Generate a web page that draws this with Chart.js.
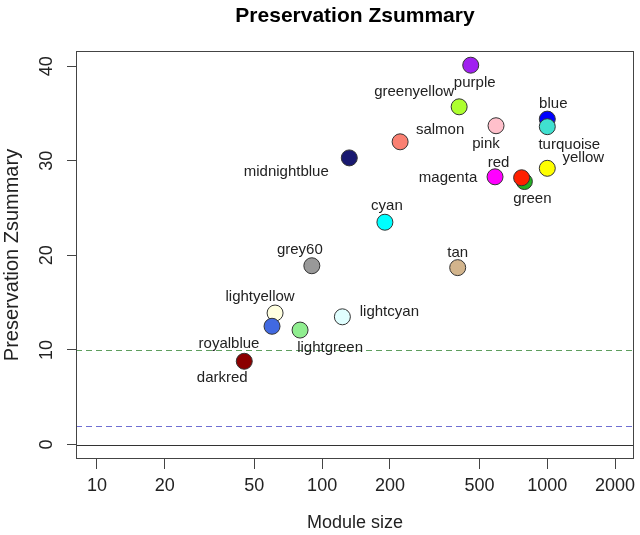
<!DOCTYPE html>
<html>
<head>
<meta charset="utf-8">
<script src="https://cdn.jsdelivr.net/npm/chart.js@4.4.0/dist/chart.umd.min.js"></script>
<style>
  html, body { margin: 0; padding: 0; background: #fff; }
  canvas { display: block; }
</style>
</head>
<body>
<canvas id="zChart" width="640" height="535"></canvas>
<script>
// module data (draw order matters where points overlap)
const modules = ['purple', 'greenyellow', 'blue', 'turquoise', 'pink', 'salmon', 'midnightblue',
  'yellow', 'magenta', 'green', 'red', 'cyan', 'grey60', 'tan', 'lightyellow', 'royalblue',
  'lightgreen', 'lightcyan', 'darkred'];
const moduleSize = [457, 406, 1000, 1000, 592, 222, 132, 1000, 586, 791, 769, 190, 90, 400, 61.8, 59.9, 79.8, 123, 45.1];
const zSummary = [40.1, 35.7, 34.4, 33.6, 33.7, 32.0, 30.3, 29.2, 28.3, 27.8, 28.2, 23.5, 18.9, 18.7, 13.9, 12.5, 12.1, 13.5, 8.8];
const moduleColors = ['#a020f0', '#adff2f', '#0000ff', '#40e0d0', '#ffc0cb', '#fa8072', '#191970',
  '#ffff00', '#ff00ff', '#22b022', '#ff2000', '#00ffff', '#999999', '#d2b48c', '#ffffe0', '#4169e1',
  '#90ee90', '#e0ffff', '#8b0000'];
const xTicks = [10, 20, 50, 100, 200, 500, 1000, 2000];
const yTicks = [0, 10, 20, 30, 40];
const thresholds = [10, 2, 0];

// styling only: where each label sits relative to its point, and the threshold line looks
const labelOffsets = [[4, 18], [-45, -15], [6, -15], [22, 18], [-10, 18], [40, -12], [-63, 14],
  [36, -10], [-47, 1], [8, 17], [-23, -15], [2, -16], [-12, -16], [0, -15], [-15, -16], [-43, 18],
  [30, 18], [47, -5], [-22, 17]];
const lineStyles = [
  { color: '#5f9f5f', dash: [6, 4] },
  { color: '#6f6fd2', dash: [6, 4] },
  { color: '#333333', dash: [] }
];

const FONT = "'Liberation Sans', Arial, Helvetica, sans-serif";
Chart.defaults.font.family = FONT;
Chart.defaults.color = '#222';

const annotate = {
  id: 'annotate',
  beforeDatasetsDraw(chart) {
    const { ctx, chartArea: a, scales: { y } } = chart;
    ctx.save();
    ctx.beginPath();
    ctx.rect(a.left, a.top, a.right - a.left, a.bottom - a.top);
    ctx.clip();
    thresholds.forEach((t, i) => {
      const py = Math.round(y.getPixelForValue(t)) + 0.5;
      ctx.strokeStyle = lineStyles[i].color;
      ctx.setLineDash(lineStyles[i].dash);
      ctx.lineWidth = 1;
      ctx.beginPath();
      ctx.moveTo(a.left, py);
      ctx.lineTo(a.right, py);
      ctx.stroke();
    });
    ctx.restore();
  },
  afterDatasetsDraw(chart) {
    const { ctx } = chart;
    const pts = chart.getDatasetMeta(0).data;
    ctx.save();
    ctx.font = '15px ' + FONT;
    ctx.fillStyle = '#222';
    ctx.textAlign = 'center';
    ctx.textBaseline = 'middle';
    pts.forEach((p, i) => {
      ctx.fillText(modules[i], p.x + labelOffsets[i][0], p.y + labelOffsets[i][1]);
    });
    ctx.restore();
  },
  afterDraw(chart) {
    const { ctx, chartArea: a, scales: { y } } = chart;
    ctx.save();
    ctx.strokeStyle = '#444';
    ctx.lineWidth = 1;
    ctx.strokeRect(a.left + 0.5, a.top + 0.5, a.right - a.left - 1, a.bottom - a.top - 1);

    ctx.fillStyle = '#222';
    ctx.font = '18px ' + FONT;
    ctx.textAlign = 'center';
    ctx.textBaseline = 'middle';
    yTicks.forEach(v => {
      ctx.save();
      ctx.translate(47, y.getPixelForValue(v));
      ctx.rotate(-Math.PI / 2);
      ctx.fillText(String(v), 0, 0);
      ctx.restore();
    });

    ctx.fillStyle = '#000';
    ctx.font = 'bold 21px ' + FONT;
    ctx.fillText('Preservation Zsummary', (a.left + a.right) / 2, 16);
    ctx.restore();
  }
};

new Chart(document.getElementById('zChart'), {
  type: 'scatter',
  data: {
    datasets: [{
      data: moduleSize.map((s, i) => ({ x: s, y: zSummary[i] })),
      pointRadius: 8,
      pointHoverRadius: 8,
      pointBackgroundColor: moduleColors,
      pointBorderColor: '#333',
      pointBorderWidth: 1
    }]
  },
  options: {
    responsive: false,
    animation: false,
    layout: { autoPadding: false, padding: { top: 51, right: 6, left: 0, bottom: 0 } },
    plugins: { legend: { display: false }, tooltip: { enabled: false } },
    scales: {
      x: {
        type: 'logarithmic',
        min: 8.07,
        max: 2427,
        bounds: 'data',
        afterBuildTicks: s => { s.ticks = xTicks.map(v => ({ value: v })); },
        afterFit: s => { s.height = 76; s.paddingLeft = 0; s.paddingRight = 0; },
        grid: { drawOnChartArea: false, drawTicks: true, tickLength: 10, color: '#444' },
        border: { display: false },
        ticks: { autoSkip: false, maxRotation: 0, minRotation: 0, padding: 6, font: { size: 18 }, color: '#222', callback: v => String(v) },
        title: { display: true, text: 'Module size', font: { size: 18 }, color: '#222', padding: { top: 0, bottom: 1 } }
      },
      y: {
        min: -1.53,
        max: 41.6,
        afterBuildTicks: s => { s.ticks = yTicks.map(v => ({ value: v })); },
        afterFit: s => { s.width = 76; s.paddingTop = 0; s.paddingBottom = 0; },
        grid: { drawOnChartArea: false, drawTicks: true, tickLength: 9, color: '#444' },
        border: { display: false },
        ticks: { display: false },
        title: { display: true, text: 'Preservation Zsummary', font: { size: 20 }, color: '#222', padding: { top: 0, bottom: 0 } }
      }
    }
  },
  plugins: [annotate]
});
</script>
</body>
</html>
